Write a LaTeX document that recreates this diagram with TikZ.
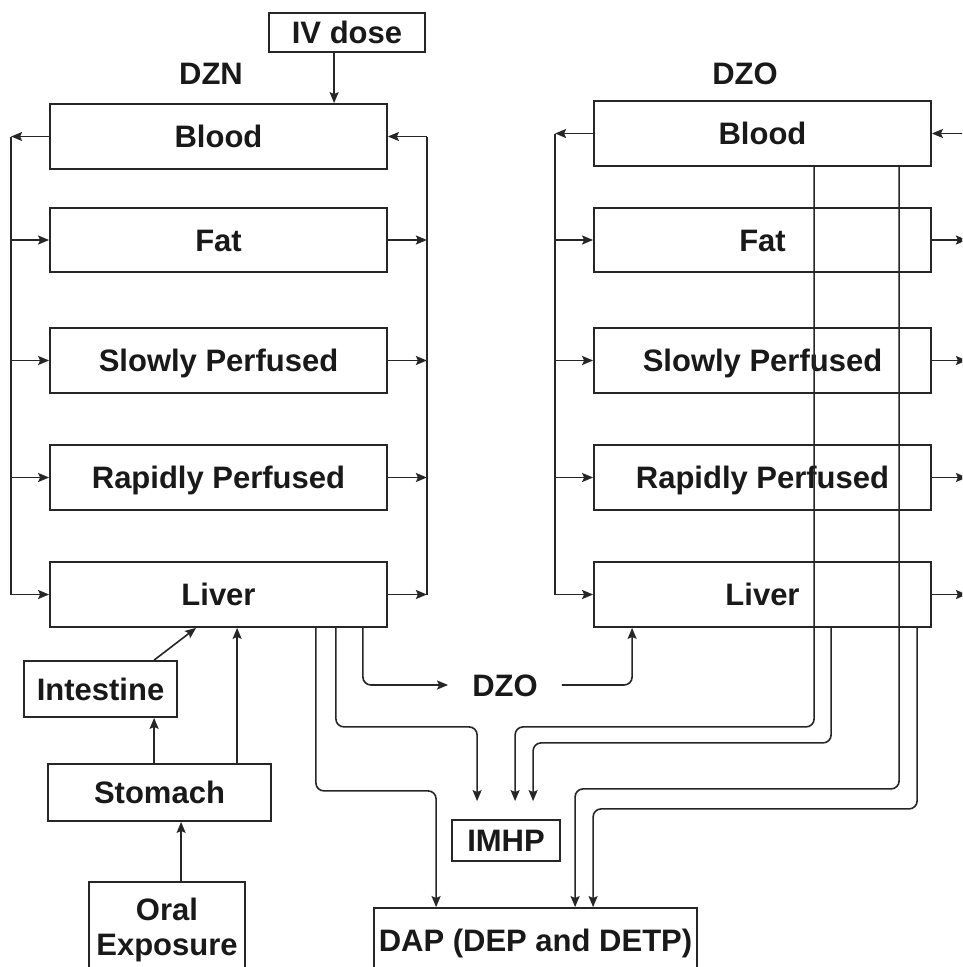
\documentclass[tikz,border=0pt]{standalone}
\usepackage{fontspec}
\setmainfont{Liberation Sans}
\usetikzlibrary{arrows.meta,calc}
\begin{document}
\begin{tikzpicture}[x=1pt,y=-1pt,
  every node/.style={font=\fontsize{31}{35}\selectfont\bfseries, text=black!90},
  box/.style={draw=black!85, line width=1.8pt, minimum width=337pt, minimum height=65pt, text height=22pt, text depth=0pt, inner sep=0pt},
  sbox/.style={draw=black!85, line width=1.8pt, inner sep=0pt, text height=22pt, text depth=0pt},
  mbox/.style={draw=black!85, line width=1.8pt, inner sep=0pt},
  lbl/.style={inner sep=0pt, text height=22pt, text depth=0pt},
  arr/.style={draw=black!85, line width=1.6pt, -{Stealth[length=11pt,width=9pt,inset=2pt]}},
  ln/.style={draw=black!85, line width=1.6pt},
  rnd/.style={rounded corners=8pt}
]
\useasboundingbox (0,0) rectangle (962,967);
\fill[white] (0,0) rectangle (962,967);
\clip (0,0) rectangle (962,967);

% top
\node[sbox, minimum width=156pt, minimum height=39pt] (iv) at (347,32.5) {IV dose};
\node[lbl] (dzn) at (211,73.5) {DZN};
\node[lbl] (dzo) at (745,73.5) {DZO};

% DZN column
\node[box] (bloodL) at (218.5,136.5) {Blood};
\node[box, minimum height=64pt] (fatL) at (218.5,240) {Fat};
\node[box] (slowL) at (218.5,360.5) {Slowly Perfused};
\node[box] (rapidL) at (218.5,477.5) {Rapidly Perfused};
\node[box] (liverL) at (218.5,594.5) {Liver};

% DZO column
\node[box] (bloodR) at (762.5,133.5) {Blood};
\node[box, minimum height=64pt] (fatR) at (762.5,240) {Fat};
\node[box] (slowR) at (762.5,360.5) {Slowly Perfused};
\node[box] (rapidR) at (762.5,477.5) {Rapidly Perfused};
\node[box] (liverR) at (762.5,594.5) {Liver};

% lower left
\node[sbox, minimum width=153pt, minimum height=56pt] (int) at (100.5,689) {Intestine};
\node[sbox, minimum width=223pt, minimum height=57pt] (stomach) at (159.5,792.5) {Stomach};
\node[mbox, align=center, minimum width=156pt, minimum height=96pt] (oral) at (167,930) {Oral\\Exposure};

% lower middle
\node[lbl, inner xsep=24pt] (dzoM) at (505,685) {DZO};
\node[sbox, minimum width=108pt, minimum height=41pt] (imhp) at (506,840.5) {IMHP};
\node[sbox, minimum width=323pt, minimum height=64pt] (dap) at (535.5,940) {DAP (DEP and DETP)};

% IV dose
\coordinate (ivx) at ([xshift=66pt]iv.south west);
\draw[arr] (ivx) -- (ivx |- bloodL.north);

% DZN buses
\coordinate (lbL) at ([xshift=-38pt]bloodL.west);
\draw[arr] (bloodL.west) -- (lbL);
\draw[ln] (lbL) -- (lbL |- liverL.west);
\foreach \n in {fatL,slowL,rapidL,liverL} \draw[arr] (lbL |- \n.west) -- (\n.west);
\coordinate (rbL) at ([xshift=39pt]bloodL.east);
\draw[arr] (rbL) -- (bloodL.east);
\draw[ln] (rbL) -- (rbL |- liverL.east);
\foreach \n in {fatL,slowL,rapidL,liverL} \draw[arr] (\n.east) -- (rbL |- \n.east);

% DZO buses
\coordinate (lbR) at ([xshift=-38pt]bloodR.west);
\draw[arr] (bloodR.west) -- (lbR);
\draw[ln] (lbR) -- (lbR |- liverR.west);
\foreach \n in {fatR,slowR,rapidR,liverR} \draw[arr] (lbR |- \n.west) -- (\n.west);
\coordinate (rbR) at ([xshift=35pt]bloodR.east);
\draw[arr] (rbR) -- (bloodR.east);
\draw[ln] (rbR) -- (rbR |- liverR.east);
\foreach \n in {fatR,slowR,rapidR,liverR} \draw[arr] (\n.east) -- (rbR |- \n.east);

% oral route
\coordinate (o1) at ([xshift=93pt]oral.north west);
\draw[arr] (o1) -- (o1 |- stomach.south);
\coordinate (s1) at ([xshift=107pt]stomach.north west);
\draw[arr] (s1) -- (s1 |- int.south);
\coordinate (s2) at ([xshift=190pt]stomach.north west);
\draw[arr] (s2) -- (s2 |- liverL.south);
\coordinate (i1) at ([xshift=131pt]int.north west);
\coordinate (lv1) at ([xshift=147pt]liverL.south west);
\draw[arr] (i1) -- (lv1);

% metabolism connectors
\coordinate (la) at ([xshift=-72pt]liverL.south east);
\coordinate (lb) at ([xshift=-52pt]liverL.south east);
\coordinate (lc) at ([xshift=-25pt]liverL.south east);
\coordinate (ra) at ([xshift=221pt]bloodR.south west);
\coordinate (rb) at ([xshift=306pt]bloodR.south west);
\coordinate (lr0) at ([xshift=39pt]liverR.south west);
\coordinate (lr1) at ([xshift=238pt]liverR.south west);
\coordinate (lr2) at ([xshift=324pt]liverR.south west);
\coordinate (im1) at ($(imhp.north west)+(26,-18)$);
\coordinate (im2) at ($(imhp.north west)+(64,-18)$);
\coordinate (im3) at ($(imhp.north west)+(82,-18)$);
\coordinate (dp1) at ([xshift=63pt]dap.north west);
\coordinate (dp2) at ([xshift=202pt]dap.north west);
\coordinate (dp3) at ([xshift=220pt]dap.north west);

\draw[arr, rnd] (la) -- ++(0,163) -| (dp1);
\draw[arr, rnd] (lb) -- ++(0,99) -| (im1);
\draw[arr, rnd] (lc) |- (dzoM.west);
\draw[arr, rnd] (dzoM.east) -| (lr0);
\draw[arr, rnd] (ra) -- ++(0,560) -| (im2);
\draw[arr, rnd] (lr1) -- ++(0,115) -| (im3);
\draw[arr, rnd] (rb) -- ++(0,622) -| (dp2);
\draw[arr, rnd] (lr2) -- ++(0,181) -| (dp3);
\end{tikzpicture}
\end{document}
